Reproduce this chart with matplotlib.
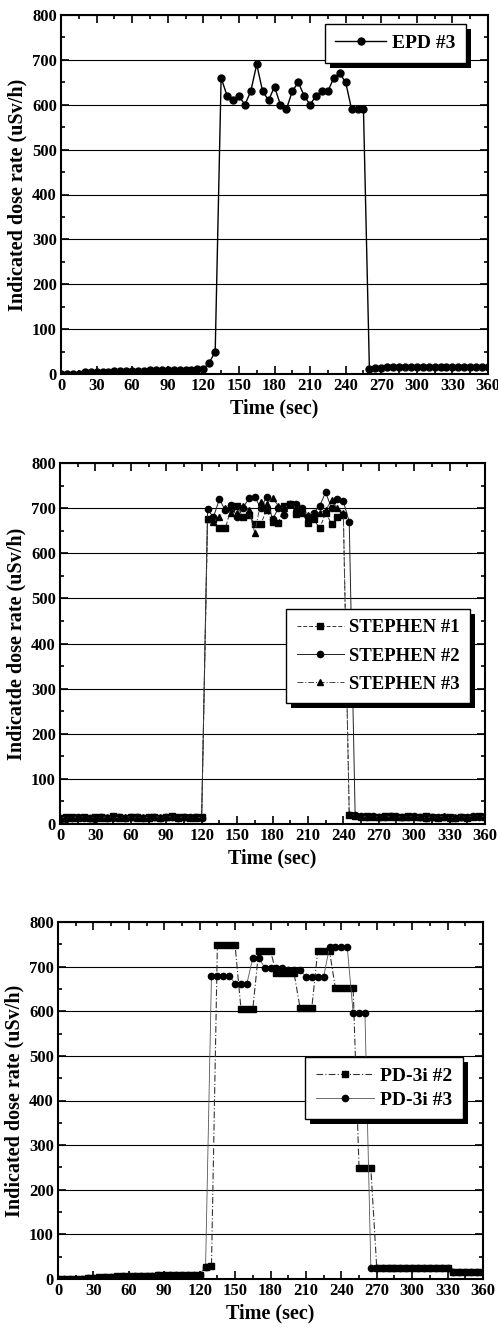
import matplotlib
matplotlib.use("Agg")
import matplotlib.pyplot as plt
from matplotlib.patches import Rectangle
from matplotlib.ticker import MultipleLocator

plt.rcParams["font.family"] = ["Liberation Serif", "DejaVu Serif"]
plt.rcParams["font.weight"] = "bold"

# --- EPD #3 (top panel), 5 s sampling ---
epd_time = list(range(0, 361, 5))
epd3 = [0, 0, 0, 0, 4, 4, 4, 5, 5, 6, 6, 6, 7, 7, 7, 8, 9, 9, 9, 9, 10, 10, 10, 11, 11,
        25, 50, 660, 620, 610, 620, 600, 630, 690, 630, 610, 640, 600, 590, 630, 650,
        620, 600, 620, 630, 630, 660, 670, 650, 590, 590, 590,
        12, 13, 14, 15, 15, 15, 15, 15, 15, 15, 15, 15, 15, 15, 16, 16, 16, 16, 16, 16, 16]

# --- STEPHEN #1..#3 (middle panel), 5 s sampling ---
st_time = list(range(0, 361, 5))
stephen1 = [14, 15, 16, 14, 15, 13, 16, 15, 14, 17, 15, 14, 16, 15, 13, 15, 16, 14, 15, 17,
            15, 16, 14, 15, 16,
            676, 675, 655, 655, 700, 705, 680, 685, 665, 665, 695, 670, 668, 705, 710, 688,
            690, 668, 675, 655, 690, 665, 680, 685,
            20, 18, 16, 17, 15, 16, 18, 17, 15, 16, 17, 16, 15, 17, 16, 14, 15, 16, 13, 15,
            14, 16, 17, 15]
stephen2 = [0, 12, 14, 15, 13, 14, 12, 15, 14, 13, 15, 14, 16, 15, 14, 13, 15, 14, 16, 15,
            14, 15, 16, 15, 14,
            697, 680, 720, 695, 707, 680, 700, 722, 725, 700, 725, 675, 700, 685, 710, 710,
            700, 680, 690, 705, 735, 700, 720, 715, 670,
            20, 18, 16, 17, 15, 16, 17, 18, 16, 15, 17, 16, 14, 15, 16, 15, 14, 13, 15, 16,
            18, 16, 17]
stephen3 = [13, 15, 14, 16, 15, 14, 15, 13, 16, 15, 14, 15, 16, 14, 15, 14, 16, 15, 15, 16,
            14, 16, 15, 14, 15,
            676, 670, 680, 700, 690, 690, 705, 695, 645, 713, 710, 722, 705, 700, 710, 700,
            700, 685, 690, 690, 695, 718, 700, 690,
            22, 19, 17, 16, 17, 15, 16, 16, 17, 15, 16, 17, 15, 14, 16, 15, 17, 14, 15, 16,
            15, 17, 18, 15]

# --- PD-3i #2, #3 (bottom panel), 5 s sampling ---
pd_time = list(range(0, 361, 5))
pd3i_2 = [0, 0, 0, 0, 1, 3, 3, 4, 5, 5, 6, 6, 6, 6, 6, 7, 7, 8, 9, 9, 9, 9, 9, 9, 9,
          28, 30,
          748, 748, 748, 748, 605, 605, 605, 735, 735, 735, 685, 685, 685, 685,
          608, 608, 608, 735, 735, 735, 651, 651, 651, 651, 248, 248, 248,
          25, 25, 25, 25, 25, 25, 25, 25, 25, 25, 25, 25, 25,
          15, 15, 15, 15, 15, 15]
pd3i_3 = [0, 0, 0, 1, 1, 2, 3, 3, 4, 5, 5, 6, 6, 6, 6, 7, 7, 8, 9, 10, 10, 10, 10, 10, 10,
          28,
          680, 680, 680, 680, 662, 662, 662, 720, 720, 698, 698, 698, 698,
          693, 693, 693, 677, 677, 677, 677, 744, 744, 744, 744, 597, 597, 597,
          25, 25, 25, 25, 25, 25, 25, 25, 25, 25, 25, 25, 25, 25,
          15, 15, 15, 15, 15, 15]

W, H = 498, 1330
fig = plt.figure(figsize=(W / 100, H / 100), dpi=100)

# axes boxes in pixels: left, top, right, bottom
boxes = [(61, 15, 488, 374), (60, 463, 485, 824), (58, 922, 483, 1279)]
axes = []
for l, t, r, b in boxes:
    axes.append(fig.add_axes([l / W, 1 - b / H, (r - l) / W, (b - t) / H]))

TICK_FS = 12
LABEL_FS = 14.5


def style_axes(ax, ylabel):
    ax.set_xlim(0, 360)
    ax.set_ylim(0, 800)
    ax.xaxis.set_major_locator(MultipleLocator(30))
    ax.xaxis.set_minor_locator(MultipleLocator(15))
    ax.yaxis.set_major_locator(MultipleLocator(100))
    ax.yaxis.set_minor_locator(MultipleLocator(50))
    ax.tick_params(which="both", direction="in", top=True, right=True,
                   labelsize=TICK_FS, width=1.2)
    ax.tick_params(which="major", length=6, pad=3)
    ax.tick_params(which="minor", length=3)
    for s in ax.spines.values():
        s.set_linewidth(1.5)
    ax.yaxis.grid(True, color="black", lw=0.8)
    ax.set_axisbelow(True)
    ax.set_xlabel("Time (sec)", fontsize=LABEL_FS, fontweight="bold", labelpad=3)
    ax.set_ylabel(ylabel, fontsize=LABEL_FS, fontweight="bold", labelpad=3)
    for lab in ax.get_xticklabels() + ax.get_yticklabels():
        lab.set_fontweight("bold")


def add_legend(ax, anchor, spacing, size=14, hlen=2.6):
    leg = ax.legend(loc="upper right", bbox_to_anchor=anchor, borderaxespad=0,
                    frameon=True, fancybox=False, edgecolor="black", framealpha=1,
                    handlelength=hlen, prop={"weight": "bold", "size": size},
                    borderpad=0.55, labelspacing=spacing, handletextpad=0.3)
    leg.get_frame().set_linewidth(1.0)
    leg.set_zorder(6)
    return leg


ax1, ax2, ax3 = axes

ax1.plot(epd_time, epd3, "-o", color="black", lw=1.0, ms=5, label="EPD #3")
style_axes(ax1, "Indicated dose rate (uSv/h)")
leg1 = add_legend(ax1, (0.948, 0.975), 0.3)

ax2.plot(st_time, stephen1, "s", ls=(0, (4, 2)), color="#333333", lw=0.7, ms=4.5,
         markerfacecolor="black", markeredgecolor="black", label="STEPHEN #1")
ax2.plot(st_time, stephen2, "o", ls="-", color="#222222", lw=0.7, ms=4.5,
         markerfacecolor="black", markeredgecolor="black", label="STEPHEN #2")
ax2.plot(st_time, stephen3, "^", ls=(0, (6, 2, 1, 2)), color="#444444", lw=0.7, ms=4.5,
         markerfacecolor="black", markeredgecolor="black", label="STEPHEN #3")
style_axes(ax2, "Indicatde dose rate (uSv/h)")
leg2 = add_legend(ax2, (0.965, 0.596), 0.6, size=13.5, hlen=2.5)

ax3.plot(pd_time, pd3i_2, "s", ls=(0, (6, 2, 1, 2)), color="#333333", lw=0.8, ms=4.5,
         markerfacecolor="black", markeredgecolor="black", label="PD-3i #2")
ax3.plot(pd_time, pd3i_3, "o", ls="-", color="#555555", lw=0.6, ms=4.5,
         markerfacecolor="black", markeredgecolor="black", label="PD-3i #3")
style_axes(ax3, "Indicated dose rate (uSv/h)")
leg3 = add_legend(ax3, (0.953, 0.622), 0.3, hlen=3.0)

# black drop shadows behind the legend boxes
fig.canvas.draw()
for ax, leg in zip(axes, [leg1, leg2, leg3]):
    bb = leg.get_window_extent()
    off = 5
    shadow = Rectangle(((bb.x0 + off) / W, (bb.y0 - off) / H), bb.width / W, bb.height / H,
                       transform=fig.transFigure, facecolor="black", edgecolor="none",
                       zorder=5.5)
    ax.add_artist(shadow)
    shadow.set_clip_on(False)

fig.savefig("out.png", dpi=100)
